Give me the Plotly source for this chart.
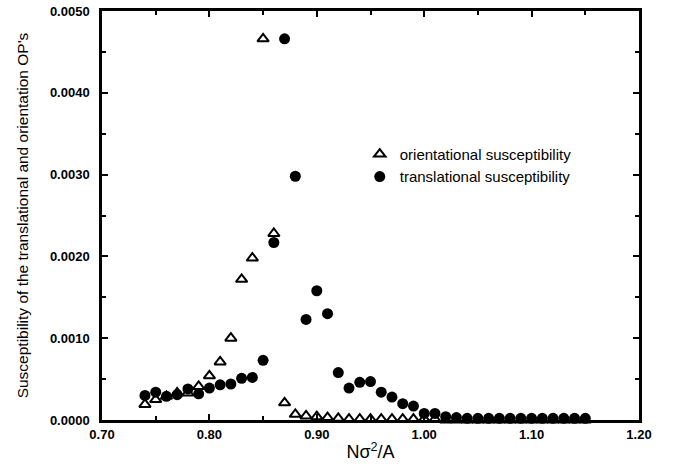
import plotly.graph_objects as go

# Reduced density N*sigma^2/A
density = [0.74, 0.75, 0.76, 0.77, 0.78, 0.79, 0.80, 0.81, 0.82, 0.83, 0.84,
           0.85, 0.86, 0.87, 0.88, 0.89, 0.90, 0.91, 0.92, 0.93, 0.94, 0.95,
           0.96, 0.97, 0.98, 0.99, 1.00, 1.01, 1.02, 1.03, 1.04, 1.05, 1.06,
           1.07, 1.08, 1.09, 1.10, 1.11, 1.12, 1.13, 1.14, 1.15]

# Orientational order-parameter susceptibility
orient_chi = [0.00019, 0.00025, 0.00029, 0.00033, 0.00033, 0.00041, 0.00054,
              0.00071, 0.00100, 0.00172, 0.00198, 0.00466, 0.00228, 0.00021,
              0.00007, 0.00005, 0.00004, 0.00003, 0.00002, 0.00001, 0.00001,
              0.00001, 0.00001, 0.00001, 0.00001, 0.00001, 0.00001, 0.00001,
              0.0, 0.0, 0.0, 0.0, 0.0, 0.0, 0.0, 0.0, 0.0, 0.0, 0.0, 0.0, 0.0,
              0.0]

# Translational order-parameter susceptibility
trans_chi = [0.00030, 0.00034, 0.00029, 0.00031, 0.00038, 0.00032, 0.00039,
             0.00043, 0.00044, 0.00051, 0.00052, 0.00073, 0.00217, 0.00466,
             0.00298, 0.00123, 0.00158, 0.00130, 0.00058, 0.00039, 0.00046,
             0.00047, 0.00034, 0.00028, 0.00020, 0.00017, 0.00008, 0.00008,
             0.00004, 0.00003, 0.00002, 0.00002, 0.00002, 0.00002, 0.00002,
             0.00002, 0.00002, 0.00002, 0.00002, 0.00002, 0.00002, 0.00002]

x_ticks = [0.70, 0.80, 0.90, 1.00, 1.10, 1.20]
y_ticks = [0.0, 0.001, 0.002, 0.003, 0.004, 0.005]

FONT = "Liberation Sans, Arial, Helvetica, sans-serif"

fig = go.Figure()
fig.add_trace(go.Scatter(
    x=density, y=orient_chi, mode="markers",
    name="orientational susceptibility",
    marker=dict(symbol="triangle-up-open", size=10, color="black",
                line=dict(width=2, color="black")),
    cliponaxis=False,
))
fig.add_trace(go.Scatter(
    x=density, y=trans_chi, mode="markers",
    name="translational susceptibility",
    marker=dict(symbol="circle", size=11, color="black"),
    cliponaxis=False,
))

axis_common = dict(
    showline=True, linewidth=2.5, linecolor="black", mirror="ticks",
    ticks="inside", ticklen=6, tickwidth=2, tickcolor="black",
    showgrid=False, zeroline=False, automargin=False,
    tickfont=dict(family=FONT, size=13, color="black", weight="bold"),
)

fig.update_xaxes(
    range=[0.70, 1.20], tickvals=x_ticks, tickformat=".2f",
    minor=dict(ticks="inside", ticklen=4, tickwidth=1.5, tickcolor="black",
               dtick=0.05),
    ticklabelstandoff=1,
    title=dict(text="Nσ<sup>2</sup>/A", standoff=5,
               font=dict(family=FONT, size=18, color="black")),
    **axis_common,
)
fig.update_yaxes(
    range=[0.0, 0.005], tickvals=y_ticks, tickformat=".4f",
    minor=dict(ticks="inside", ticklen=4, tickwidth=1.5, tickcolor="black",
               dtick=0.0005),
    ticklabelstandoff=7,
    title=dict(text="Susceptibility of the translational and orientation OP's",
               standoff=18, font=dict(family=FONT, size=15.5, color="black")),
    **axis_common,
)

fig.update_layout(
    width=673, height=466,
    margin=dict(l=102, r=34, t=11, b=46, autoexpand=False),
    paper_bgcolor="white", plot_bgcolor="white",
    font=dict(family=FONT, color="black"),
    legend=dict(x=0.48, y=0.69, xanchor="left", yanchor="top",
                bgcolor="rgba(0,0,0,0)", itemwidth=30, tracegroupgap=0,
                font=dict(family=FONT, size=15, color="black")),
)

fig.write_html("out.html")
